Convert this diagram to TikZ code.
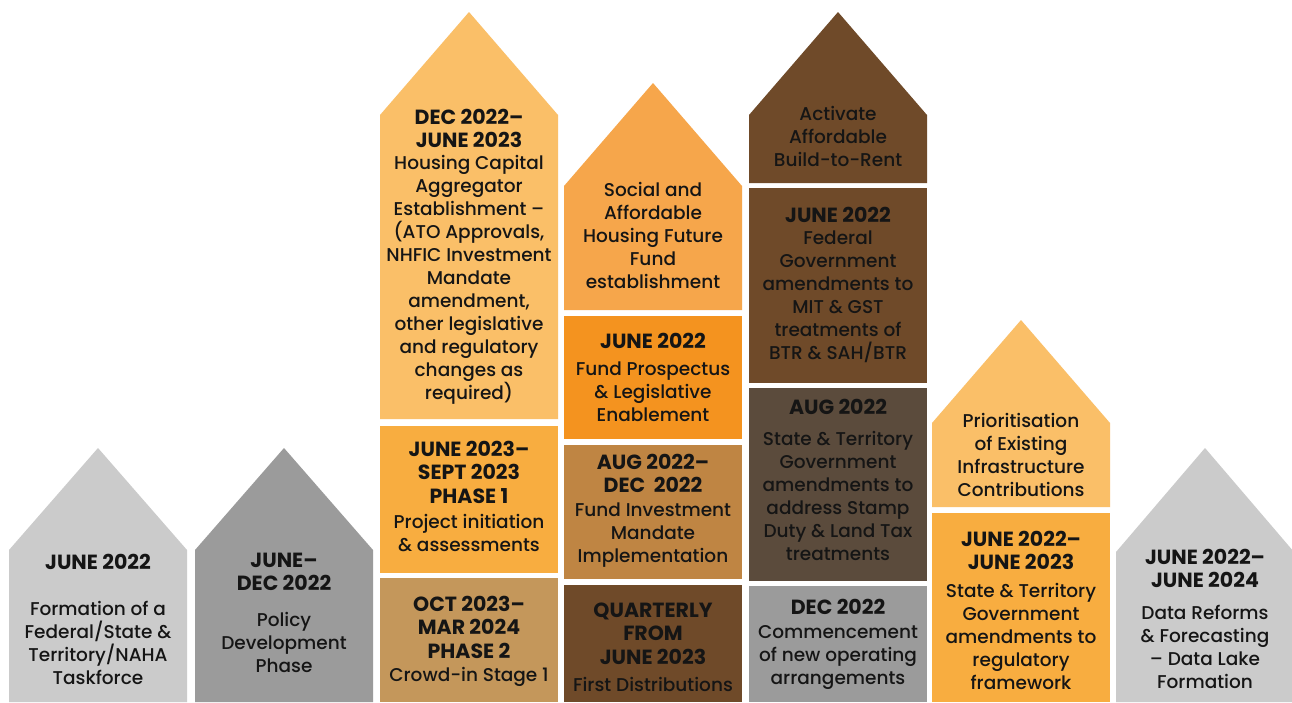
\documentclass[tikz,border=0pt]{standalone}
\usepackage{fontspec}
\setmainfont{Poppins}[UprightFont=* Medium, BoldFont=* Bold]
\definecolor{lgray}{HTML}{CBCBCB}
\definecolor{dgray}{HTML}{9B9B9B}
\definecolor{lorange}{HTML}{FABF68}
\definecolor{morange}{HTML}{F8AD40}
\definecolor{tan}{HTML}{C4975B}
\definecolor{porange}{HTML}{F6A64B}
\definecolor{dorange}{HTML}{F4931F}
\definecolor{ochre}{HTML}{BF8543}
\definecolor{brown}{HTML}{6F4A29}
\definecolor{slate}{HTML}{5B4B3C}
\definecolor{txt}{HTML}{151515}
\newcommand\housepath[5]{\fill[#5] (#1,#4) -- (#1,#3) -- (#1+89,#2) -- (#1+178,#3) -- (#1+178,#4) -- cycle;}
\newcommand\blockbox[4]{\fill[#4] (#1,#2) rectangle (#1+178,#3);}
\begin{document}
\begin{tikzpicture}[x=1pt,y=-1pt,
  hd/.style={font=\bfseries\fontsize{20.5}{23.5}\selectfont, align=center, inner sep=0pt, text=txt},
  bd/.style={font=\fontsize{18.5}{23}\selectfont, align=center, inner sep=0pt, text=txt}]
\useasboundingbox[fill=white] (0,0) rectangle (1292,702);
% column 1
\housepath{9}{448}{550}{702}{lgray}
\node[hd] (c1h) at (98,562) {JUNE 2022};
\node[bd] (c1b) at (98,642.5) {Formation of a\\Federal/State \&\\Territory/NAHA\\Taskforce};
% column 2
\housepath{195}{448}{550}{702}{dgray}
\node[hd] (c2h) at (284,572) {JUNE–\\DEC 2022};
\node[bd] (c2b) at (284,642.5) {Policy\\Development\\Phase};
% column 3
\housepath{380}{12}{115}{419}{lorange}
\blockbox{380}{426}{573}{morange}
\blockbox{380}{578}{702}{tan}
\node[hd] (c3ah) at (469,128.5) {DEC 2022–\\JUNE 2023};
\node[bd] (c3ab) at (469,280) {Housing Capital\\Aggregator\\Establishment –\\(ATO Approvals,\\NHFIC Investment\\Mandate\\amendment,\\other legislative\\and regulatory\\changes as\\required)};
\node[hd] (c3bh) at (469,472) {JUNE 2023–\\SEPT 2023\\PHASE 1};
\node[bd] (c3bb) at (469,532.5) {Project initiation\\\& assessments};
\node[hd] (c3ch) at (469,627) {OCT 2023–\\MAR 2024\\PHASE 2};
\node[bd] (c3cb) at (469,677) {Crowd-in Stage 1};
% column 4
\housepath{564}{83}{186}{310}{porange}
\blockbox{564}{316}{439}{dorange}
\blockbox{564}{445}{579}{ochre}
\blockbox{564}{585}{702}{brown}
\node[bd] (c4ab) at (653,235) {Social and\\Affordable\\Housing Future\\Fund\\establishment};
\node[hd] (c4bh) at (653,341) {JUNE 2022};
\node[bd] (c4bb) at (653,392) {Fund Prospectus\\\& Legislative\\Enablement};
\node[hd] (c4ch) at (653,473.5) {AUG 2022–\\DEC\ \ 2022};
\node[bd] (c4cb) at (653,535) {Fund Investment\\Mandate\\Implementation};
\node[hd] (c4dh) at (653,633.5) {QUARTERLY\\FROM\\JUNE 2023};
\node[bd] (c4db) at (653,684) {First Distributions};
% column 5
\housepath{749}{12}{115}{183}{brown}
\blockbox{749}{188}{383}{brown}
\blockbox{749}{388}{581}{slate}
\blockbox{749}{586}{702}{dgray}
\node[bd] (c5ab) at (838,136.5) {Activate\\Affordable\\Build-to-Rent};
\node[hd] (c5bh) at (838,215) {JUNE 2022};
\node[bd] (c5bb) at (838,296.5) {Federal\\Government\\amendments to\\MIT \& GST\\treatments of\\BTR \& SAH/BTR};
\node[hd] (c5ch) at (838,407) {AUG 2022};
\node[bd] (c5cb) at (838,495.5) {State \& Territory\\Government\\amendments to\\address Stamp\\Duty \& Land Tax\\treatments};
\node[hd] (c5dh) at (838,607) {DEC 2022};
\node[bd] (c5db) at (838,657) {Commencement\\of new operating\\arrangements};
% column 6
\housepath{932}{320}{423}{507}{lorange}
\blockbox{932}{513}{702}{morange}
\node[bd] (c6ab) at (1021,454.5) {Prioritisation\\of Existing\\Infrastructure\\Contributions};
\node[hd] (c6bh) at (1021,550.5) {JUNE 2022–\\JUNE 2023};
\node[bd] (c6bb) at (1021,636) {State \& Territory\\Government\\amendments to\\regulatory\\framework};
% column 7
\housepath{1116}{448}{552}{702}{lgray}
\node[hd] (c7h) at (1205,568.5) {JUNE 2022–\\JUNE 2024};
\node[bd] (c7b) at (1205,646.5) {Data Reforms\\\& Forecasting\\– Data Lake\\Formation};
\end{tikzpicture}
\end{document}
